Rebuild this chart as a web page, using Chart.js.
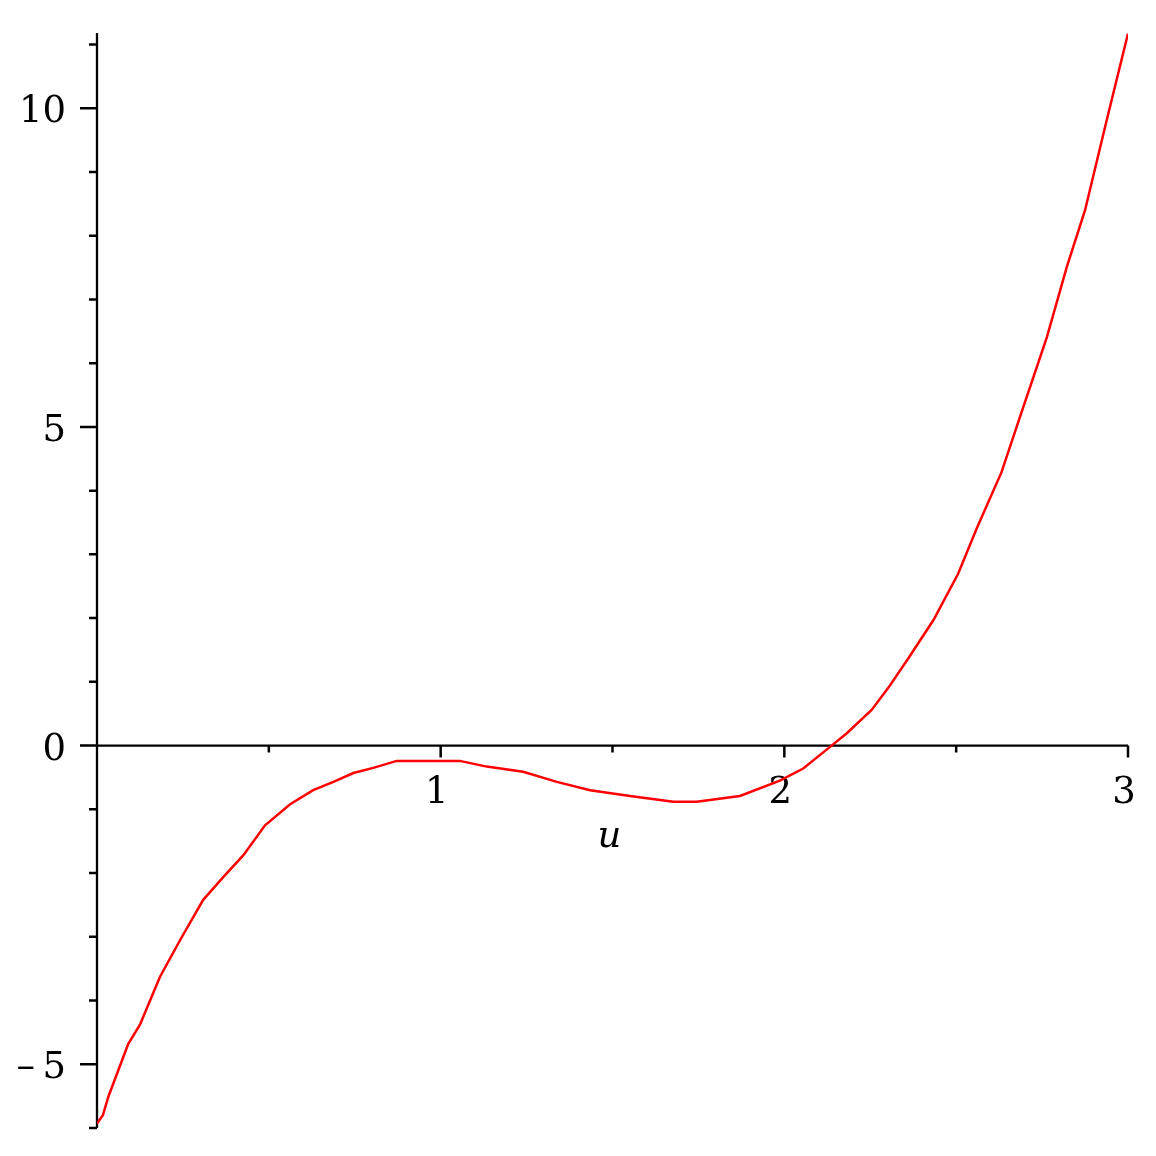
<!DOCTYPE html>
<html>
<head>
<meta charset="utf-8">
<title>u plot</title>
<script src="https://cdn.jsdelivr.net/npm/chart.js@4/dist/chart.umd.min.js"></script>
<style>
  html, body { margin: 0; padding: 0; background: #ffffff; }
  #box { width: 1156px; height: 1156px; }
</style>
</head>
<body>
<div id="box"><canvas id="myChart" width="1156" height="1156"></canvas></div>
<script>
const ctx = document.querySelector('#myChart');

// curve samples
const uValues = [
  0.0, 0.017, 0.033, 0.091, 0.125, 0.183, 0.242, 0.309, 0.368, 0.426,
  0.489, 0.562, 0.629, 0.688, 0.746, 0.804, 0.872, 1.056, 1.134, 1.240,
  1.338, 1.435, 1.551, 1.677, 1.745, 1.871, 1.987, 2.055, 2.133, 2.181,
  2.254, 2.303, 2.361, 2.434, 2.506, 2.560, 2.632, 2.684, 2.764, 2.822,
  2.875, 2.938, 3.0,
];
const fValues = [
  -5.93, -5.80, -5.51, -4.68, -4.38, -3.63, -3.05, -2.42, -2.06, -1.72,
  -1.25, -0.92, -0.70, -0.57, -0.43, -0.35, -0.24, -0.24, -0.33, -0.41,
  -0.57, -0.70, -0.79, -0.88, -0.88, -0.79, -0.55, -0.36, -0.02, 0.19,
  0.56, 0.91, 1.37, 1.97, 2.70, 3.41, 4.29, 5.13, 6.41, 7.51,
  8.40, 9.81, 11.17,
];

const xMajorTicks = [1, 2, 3];
const xMinorTicks = [0.5, 1.5, 2.5];
const xTickLabels = ['1', '2', '3'];
const yMajorTicks = [-5, 0, 5, 10];
const yMinorTicks = [-6, -4, -3, -2, -1, 1, 2, 3, 4, 6, 7, 8, 9, 11];
const yTickLabels = ['\u2013\u20095', '0', '5', '10'];
const X_TITLE = 'u';

const X_MIN = 0;
const X_MAX = 3;
const Y_MIN = -6;
const Y_MAX = 11.18;

const COLOR_CURVE = '#ff0000';
const COLOR_AXIS = '#000000';
const FONT_TICKS = '37px "DejaVu Serif"';
const FONT_TITLE = 'italic 37px "DejaVu Serif"';

/**
 * Draws the axes through the origin, the ticks and their labels.
 */
const axesPlugin = {
  id: 'mapleAxes',
  beforeDatasetsDraw(chart) {
    const c = chart.ctx;
    const xs = chart.scales.x;
    const ys = chart.scales.y;
    const x0 = xs.getPixelForValue(0);
    const y0 = ys.getPixelForValue(0);

    c.save();
    c.strokeStyle = COLOR_AXIS;
    c.fillStyle = COLOR_AXIS;
    c.lineWidth = 2.3;
    c.lineCap = 'butt';

    c.beginPath();
    c.moveTo(xs.getPixelForValue(X_MIN), y0);
    c.lineTo(xs.getPixelForValue(X_MAX), y0);
    c.moveTo(x0, ys.getPixelForValue(Y_MAX));
    c.lineTo(x0, ys.getPixelForValue(Y_MIN));
    c.stroke();

    c.lineWidth = 2.5;
    c.beginPath();
    xMajorTicks.forEach((v) => {
      const px = xs.getPixelForValue(v);
      c.moveTo(px, y0);
      c.lineTo(px, y0 + 12);
    });
    xMinorTicks.forEach((v) => {
      const px = xs.getPixelForValue(v);
      c.moveTo(px, y0);
      c.lineTo(px, y0 + 7);
    });
    yMajorTicks.forEach((v) => {
      const py = ys.getPixelForValue(v);
      c.moveTo(x0, py);
      c.lineTo(x0 - 17, py);
    });
    yMinorTicks.forEach((v) => {
      const py = ys.getPixelForValue(v);
      c.moveTo(x0, py);
      c.lineTo(x0 - 8, py);
    });
    c.stroke();

    c.font = FONT_TICKS;
    c.textBaseline = 'alphabetic';
    c.textAlign = 'center';
    xMajorTicks.forEach((v, i) => {
      c.fillText(xTickLabels[i], xs.getPixelForValue(v) - 4, y0 + 57);
    });
    c.textAlign = 'right';
    yMajorTicks.forEach((v, i) => {
      c.fillText(yTickLabels[i], x0 - 31, ys.getPixelForValue(v) + 14);
    });

    c.font = FONT_TITLE;
    c.textAlign = 'center';
    c.fillText(X_TITLE, xs.getPixelForValue(1.5) - 3, y0 + 101);
    c.restore();
  },
};

/**
 * Configures the line chart.
 * @return {Object} chart configuration.
 */
function getChartConfiguration() {
  return {
    type: 'line',
    data: {
      datasets: [
        {
          data: uValues.map((u, i) => ({x: u, y: fValues[i]})),
          borderColor: COLOR_CURVE,
          borderWidth: 2.5,
          pointRadius: 0,
          tension: 0,
          fill: false,
        },
      ],
    },
    options: {
      responsive: false,
      animation: false,
      layout: {
        padding: {left: 97, right: 28, top: 33, bottom: 28},
      },
      plugins: {
        legend: {display: false},
        tooltip: {enabled: false},
      },
      scales: {
        x: {type: 'linear', min: X_MIN, max: X_MAX, display: false},
        y: {type: 'linear', min: Y_MIN, max: Y_MAX, display: false},
      },
    },
    plugins: [axesPlugin],
  };
}

new Chart(ctx, getChartConfiguration());
</script>
</body>
</html>
